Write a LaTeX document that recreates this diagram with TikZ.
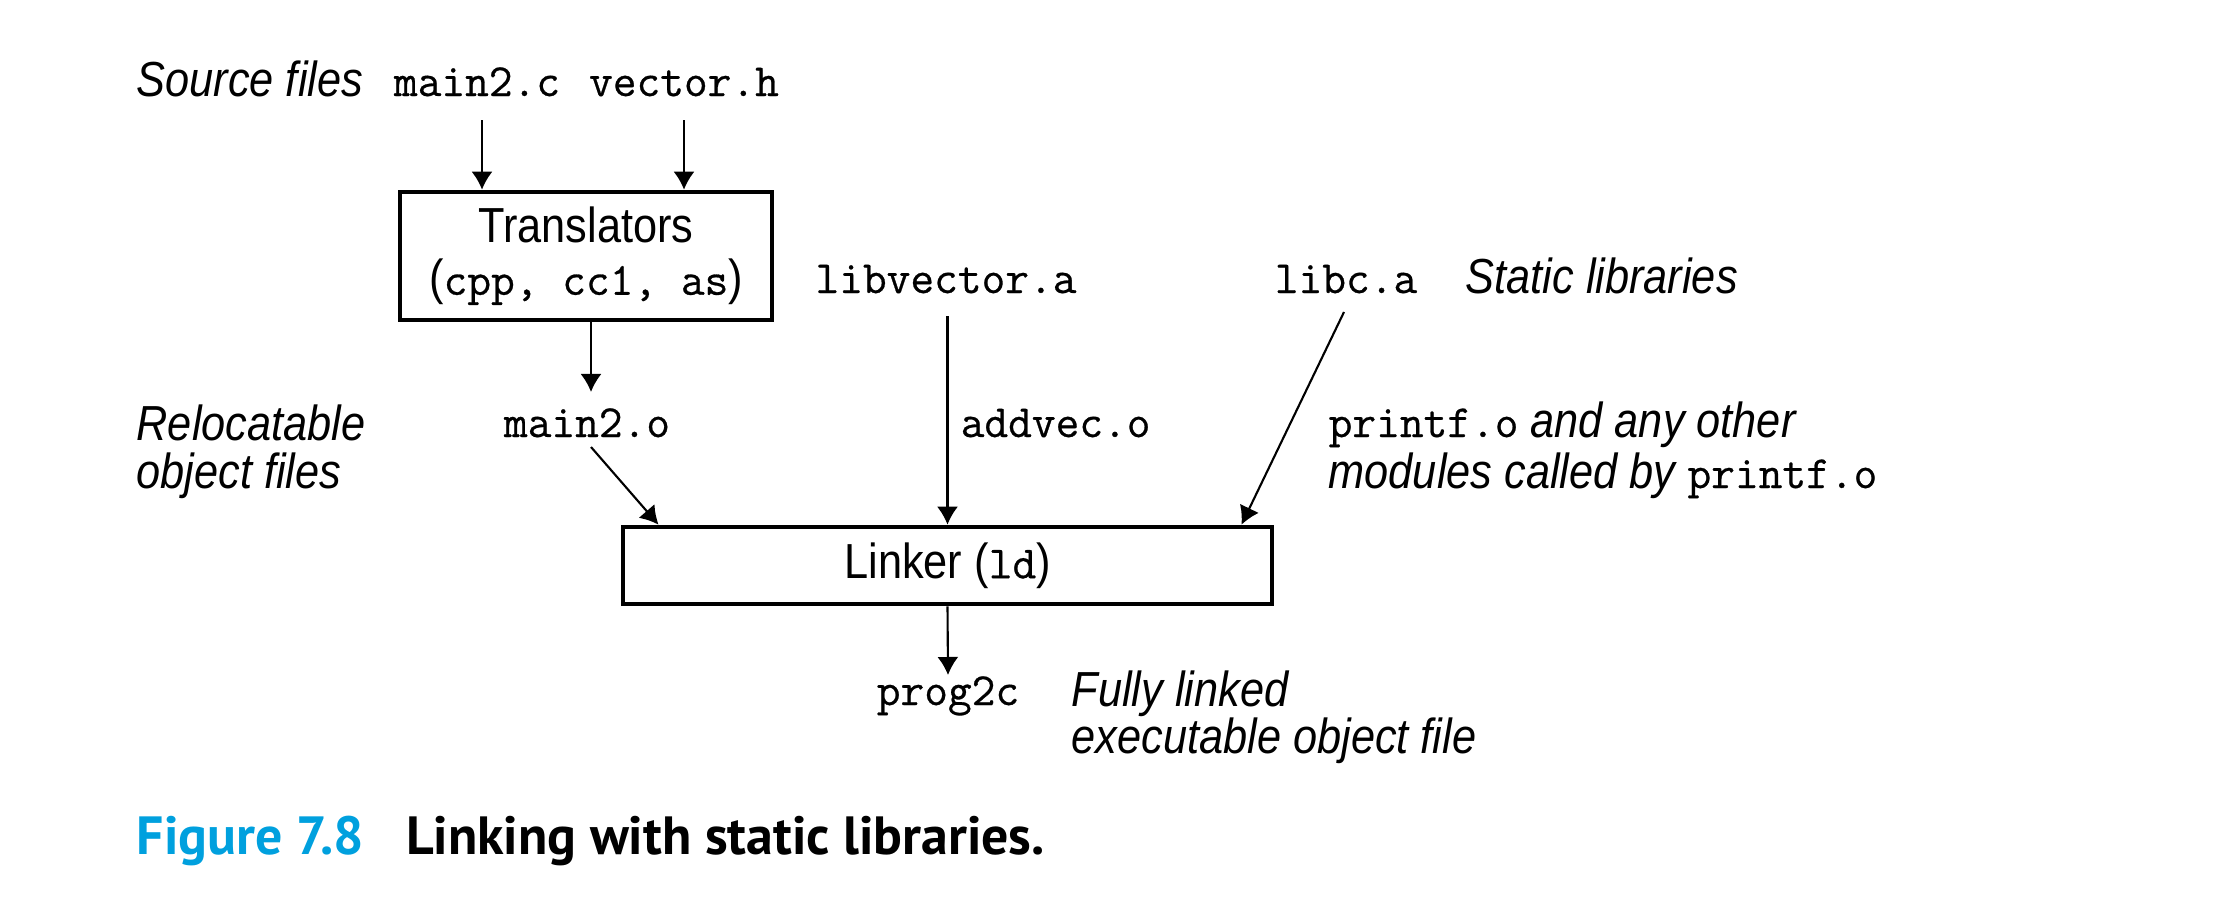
\documentclass[tikz,border=0pt]{standalone}
\usepackage{fontspec}
\newfontfamily\hv{Liberation Sans}[FakeStretch=0.88]
\newfontfamily\capfont{PT Sans}
\setmonofont{Latin Modern Mono}[FakeBold=0.6]
\usetikzlibrary{arrows.meta,calc}
\definecolor{figblue}{RGB}{0,160,222}
\newcommand\cd[1]{{\fontsize{13.1pt}{14.8pt}\selectfont\ttfamily\upshape #1}}
\begin{document}
\begin{tikzpicture}[x=0.01cm,y=-0.01cm,
  lbl/.style={inner sep=0pt, font=\hv\fontsize{14pt}{13.4pt}\selectfont\itshape},
  code/.style={inner sep=0pt, font=\fontsize{13.1pt}{14.8pt}\selectfont\ttfamily},
  box/.style={draw, line width=1.3pt, inner sep=0pt, align=center, font=\hv\fontsize{14pt}{14.8pt}\selectfont},
  arr/.style={line width=0.6pt, -{Latex[length=0.18cm,width=0.21cm]}},
]
\useasboundingbox (0,0) rectangle (2218,906);

% top row
\node[lbl, anchor=base west] (src) at (136,96) {Source files};
\node[code, anchor=base] (main2c) at (477,96) {main2.c};
\node[code, anchor=base] (vectorh) at (684,96) {vector.h};

% translators
\node[box, minimum width=3.72cm, minimum height=1.28cm] (trans) at (586,256)
  {Translators\\(\cd{cpp, cc1, as})};

% libraries
\node[code, anchor=base] (libvec) at (946,293) {libvector.a};
\node[code, anchor=base] (libc) at (1346,293) {libc.a};
\node[lbl, anchor=base west] (stlib) at (1465,293) {Static libraries};

% relocatable object files (base anchor = last line)
\node[lbl, align=left, anchor=base west] (reloc) at (136,488) {Relocatable\\object files};
\node[code, anchor=base] (main2o) at (587,437) {main2.o};
\node[code, anchor=base west] (addvec) at (960,437) {addvec.o};
\node[lbl, align=left, anchor=base west, font=\hv\fontsize{14pt}{14.5pt}\selectfont\itshape] (printf) at (1328,488)
  {\cd{printf.o} and any other\\modules called by \cd{printf.o}};

% linker
\node[box, minimum width=6.49cm, minimum height=0.77cm] (linker) at (947.5,565.5) {Linker (\cd{ld})};

% output
\node[code, anchor=base] (prog) at (948,705) {prog2c};
\node[lbl, align=left, anchor=base west, font=\hv\fontsize{14pt}{13.1pt}\selectfont\itshape] (fully) at (1071,753)
  {Fully linked\\executable object file};

% caption
\node[anchor=base west, inner sep=0pt, font=\capfont\bfseries\fontsize{15.3pt}{18pt}\selectfont] (cap) at (136,854)
  {\textcolor{figblue}{Figure 7.8}\hspace{0.42cm}Linking with static libraries.};

% connectors
\draw[arr] ($(main2c.base)+(5,24)$) -- ($(main2c.base |- trans.north)+(5,0)$);
\draw[arr] ($(vectorh.base)+(0,24)$) -- (vectorh.base |- trans.north);
\draw[arr] ($(trans.south)+(5,0)$) -- ($(main2o.base)+(4,-45)$);
\draw[arr] ($(main2o.base)+(4,10)$) -- ($(linker.north west)+(38,0)$);
\draw[arr] ($(libvec.base)+(1.5,23)$) -- (linker.north);
\draw[arr] ($(libc.base)+(-2,19)$) -- ($(linker.north east)+(-33,0)$);
\draw[arr] (linker.south) -- ($(prog.base)+(0,-30)$);
\end{tikzpicture}
\end{document}
